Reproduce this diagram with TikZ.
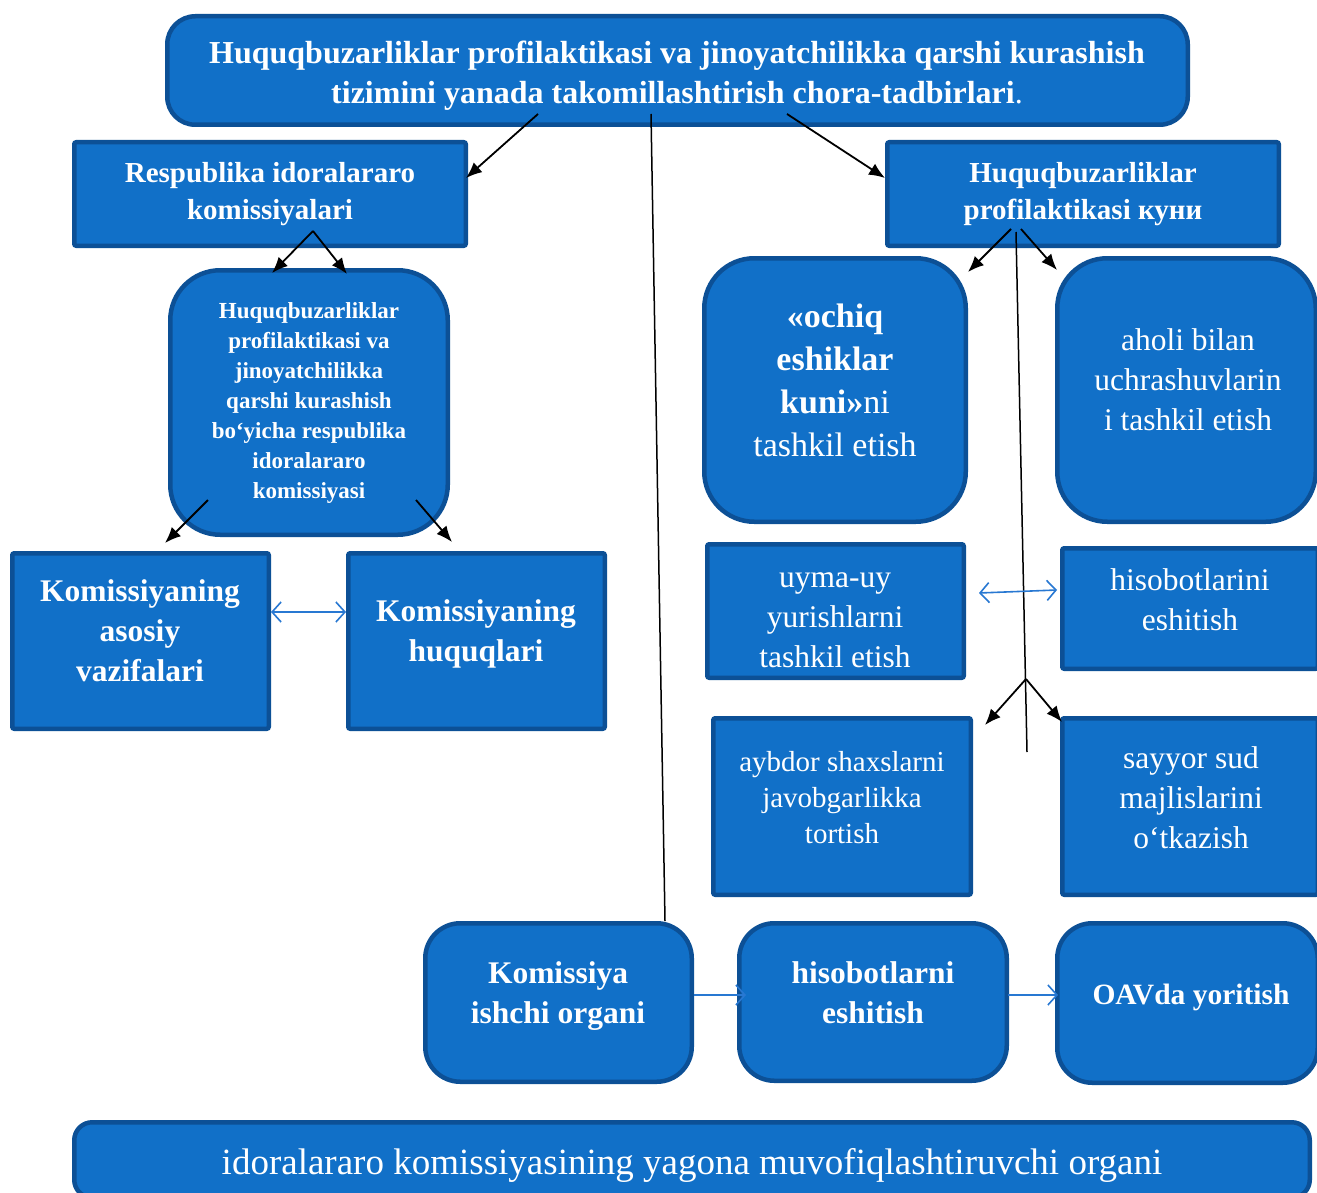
\documentclass[tikz,border=0pt]{standalone}
\usepackage{fontspec}
\setmainfont{Liberation Serif}
\usetikzlibrary{arrows.meta}
\definecolor{boxfill}{RGB}{17,112,200}
\definecolor{boxline}{RGB}{12,80,150}
\definecolor{linkblue}{RGB}{40,120,210}
\begin{document}
\begin{tikzpicture}[x=1pt,y=-1pt,
  box/.style={draw=boxline, fill=boxfill, line width=4.5pt, inner sep=0pt, outer sep=0pt},
  sqbox/.style={box, rounded corners=2pt},
  rbox/.style={box, rounded corners=#1},
  txt/.style={text=white, align=center, inner sep=0pt},
  blk/.style={draw=black, line width=1.8pt, -{Latex[length=16pt,width=13pt]}},
  plainline/.style={draw=black, line width=1.5pt},
  dbl/.style={draw=linkblue, line width=1.6pt, {Straight Barb[length=9pt,width=20pt]}-{Straight Barb[length=9pt,width=20pt]}},
  sgl/.style={draw=linkblue, line width=1.6pt, -{Straight Barb[length=9pt,width=20pt]}},
]
\useasboundingbox (0,0) rectangle (1317,1193);
\clip (0,0) rectangle (1317,1193);
\fill[white] (0,0) rectangle (1317,1193);

% boxes
\node[rbox=28pt, minimum width=1020.5pt, minimum height=108.5pt] (top) at (677.5,70.5) {};
\node[sqbox, minimum width=391.5pt, minimum height=103.5pt] (resp) at (270,194) {};
\node[sqbox, minimum width=391.5pt, minimum height=103.5pt] (kuni) at (1083,194) {};
\node[rbox=50pt, minimum width=277.5pt, minimum height=264.5pt] (midl) at (309,402.5) {};
\node[sqbox, minimum width=256.5pt, minimum height=175.5pt] (vaz) at (140.5,641) {};
\node[sqbox, minimum width=256.5pt, minimum height=175.5pt] (huq) at (476.5,641) {};
\node[rbox=50pt, minimum width=261.5pt, minimum height=263.5pt] (ochiq) at (835,390) {};
\node[rbox=50pt, minimum width=258.5pt, minimum height=263.5pt] (aholi) at (1186.5,390) {};
\node[sqbox, minimum width=256.5pt, minimum height=133.5pt] (uyma) at (835.5,611) {};
\node[sqbox, minimum width=255.5pt, minimum height=120.5pt] (hisl) at (1190,608.5) {};
\node[sqbox, minimum width=257.5pt, minimum height=176.5pt] (aybdor) at (842,806.5) {};
\node[sqbox, minimum width=255.5pt, minimum height=176.5pt] (sayyor) at (1190,806.5) {};
\node[rbox=35pt, minimum width=266.5pt, minimum height=158.5pt] (kio) at (558.5,1002.5) {};
\node[rbox=35pt, minimum width=267.5pt, minimum height=157.5pt] (hise) at (873,1002) {};
\node[rbox=35pt, minimum width=260.5pt, minimum height=159.5pt] (oav) at (1187.5,1003) {};
\node[rbox=18pt, minimum width=1235.5pt, minimum height=75.5pt] (bot) at (692,1160) {};

% texts
\node[txt, font=\fontsize{32}{40}\selectfont] (toptxt) at (677,76)
  {\textbf{Huquqbuzarliklar profilaktikasi va jinoyatchilikka qarshi kurashish}\\\textbf{tizimini yanada takomillashtirish chora-tadbirlari}.};
\node[txt, font=\fontsize{29}{37}\selectfont\bfseries] (resptxt) at (270,194) {Respublika idoralararo\\komissiyalari};
\node[txt, font=\fontsize{29}{37}\selectfont\bfseries] (kunitxt) at (1083,194) {Huquqbuzarliklar\\profilaktikasi куни};
\node[txt, font=\fontsize{23}{30}\selectfont\bfseries] (midltxt) at (309,403)
  {Huquqbuzarliklar\\profilaktikasi va\\jinoyatchilikka\\qarshi kurashish\\bo‘yicha respublika\\idoralararo\\komissiyasi};
\node[txt, font=\fontsize{31.5}{40}\selectfont\bfseries] (vaztxt) at (140,631) {Komissiyaning\\asosiy\\vazifalari};
\node[txt, font=\fontsize{31.5}{40}\selectfont\bfseries] (huqtxt) at (476,634) {Komissiyaning\\huquqlari};
\node[txt, font=\fontsize{34}{43}\selectfont] (ochiqtxt) at (835,380) {\textbf{«ochiq}\\\textbf{eshiklar}\\\textbf{kuni»}ni\\tashkil etish};
\node[txt, font=\fontsize{31.5}{40}\selectfont] (aholitxt) at (1188,380) {aholi bilan\\uchrashuvlarin\\i tashkil etish};
\node[txt, font=\fontsize{31.5}{40}\selectfont] (uymatxt) at (835,620) {uyma-uy\\yurishlarni\\tashkil etish};
\node[txt, font=\fontsize{31.5}{40}\selectfont] (hisltxt) at (1190,600) {hisobotlarini\\eshitish};
\node[txt, font=\fontsize{29}{36}\selectfont] (aybdortxt) at (842,798) {aybdor shaxslarni\\javobgarlikka\\tortish};
\node[txt, font=\fontsize{31.5}{40}\selectfont] (sayyortxt) at (1191,798) {sayyor sud\\majlislarini\\o‘tkazish};
\node[txt, font=\fontsize{31.5}{40}\selectfont\bfseries] (kiotxt) at (558,996) {Komissiya\\ishchi organi};
\node[txt, font=\fontsize{31.5}{40}\selectfont\bfseries] (hisetxt) at (873,993) {hisobotlarni\\eshitish};
\node[txt, font=\fontsize{29.5}{38}\selectfont\bfseries] (oavtxt) at (1191,997) {OAVda yoritish};
\node[txt, font=\fontsize{37}{44}\selectfont] (bottxt) at (692,1165) {idoralararo komissiyasining yagona muvofiqlashtiruvchi organi};

% connector end points
\coordinate (a1) at (538,114); \coordinate (a1e) at (466,178);
\coordinate (a2) at (787,114); \coordinate (a2e) at (885,178);
\coordinate (l1) at (651,114); \coordinate (l1e) at (665,921);
\coordinate (r1) at (313,231); \coordinate (r1a) at (272,273); \coordinate (r1b) at (347,274);
\coordinate (m1) at (208,500); \coordinate (m1e) at (165,543);
\coordinate (m2) at (416,500); \coordinate (m2e) at (452,542);
\coordinate (v1) at (271,612); \coordinate (v2) at (346,612);
\coordinate (k1) at (1011,229); \coordinate (k1e) at (968,272);
\coordinate (k2) at (1021,229); \coordinate (k2e) at (1057,270);
\coordinate (l2) at (1016,232); \coordinate (l2e) at (1027,752);
\coordinate (br) at (1026,679); \coordinate (bra) at (985,725); \coordinate (brb) at (1062,722);
\coordinate (u1) at (979,593); \coordinate (u2) at (1057,590);
\coordinate (h1) at (694,995); \coordinate (h1e) at (746,995);
\coordinate (h2) at (1008,995); \coordinate (h2e) at (1058,995);

% connectors
\draw[blk] (a1) -- (a1e);
\draw[blk] (a2) -- (a2e);
\draw[plainline] (l1) -- (l1e);
\draw[blk] (r1) -- (r1a);
\draw[blk] (r1) -- (r1b);
\draw[blk] (m1) -- (m1e);
\draw[blk] (m2) -- (m2e);
\draw[dbl] (v1) -- (v2);
\draw[blk] (k1) -- (k1e);
\draw[blk] (k2) -- (k2e);
\draw[plainline] (l2) -- (l2e);
\draw[blk] (br) -- (bra);
\draw[blk] (br) -- (brb);
\draw[dbl] (u1) -- (u2);
\draw[sgl] (h1) -- (h1e);
\draw[sgl] (h2) -- (h2e);
\end{tikzpicture}
\end{document}
